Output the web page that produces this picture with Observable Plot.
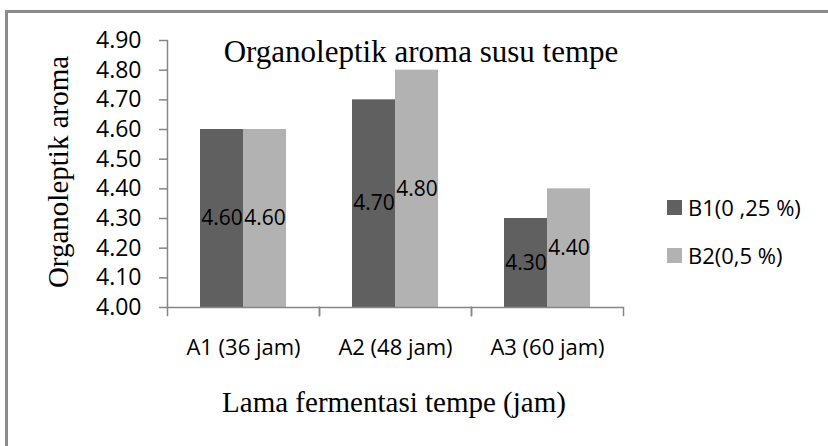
<!DOCTYPE html>
<html>
<head>
<meta charset="utf-8">
<script src="https://cdn.jsdelivr.net/npm/d3@7"></script>
<script src="https://cdn.jsdelivr.net/npm/@observablehq/plot@0.6"></script>
<style>
  html, body { margin: 0; padding: 0; background: #fff; }
  #wrap { position: relative; width: 828px; height: 446px; overflow: hidden; background: #fff; }
  #border { position: absolute; left: 5px; top: 10px; width: 1000px; height: 1000px;
            border-left: 3px solid #8c8c8c; border-top: 3px solid #8c8c8c; }
  #chart { position: absolute; left: 0; top: 0; }
  .serif { position: absolute; font-family: "Liberation Serif", "Times New Roman", serif; color: #000; white-space: nowrap; line-height: 1; }
  #title { left: 421px; top: 36px; font-size: 31px; transform: translateX(-50%); }
  #ylabel { left: 58px; top: 172px; font-size: 29px; transform: translate(-50%, -50%) rotate(-90deg); }
  #xlabel { left: 394px; top: 388px; font-size: 29px; transform: translateX(-50%); }
  #legend { position: absolute; left: 667px; top: 192px; font-family: "Open Sans", sans-serif; font-size: 22px; color: #000; }
  .item { display: flex; align-items: center; height: 30px; margin-bottom: 18px; white-space: nowrap; }
  .sw { width: 15px; height: 15px; margin-right: 6px; }
</style>
</head>
<body>
<div id="wrap">
  <div id="border"></div>
  <div id="chart"></div>
  <div id="title" class="serif"></div>
  <div id="ylabel" class="serif"></div>
  <div id="xlabel" class="serif"></div>
  <div id="legend"></div>
</div>
<script>
// ---- data ----
const categories = ["A1 (36 jam)", "A2 (48 jam)", "A3 (60 jam)"];
const series = ["B1(0 ,25 %)", "B2(0,5 %)"];
const valuesB1 = [4.60, 4.70, 4.30];
const valuesB2 = [4.60, 4.80, 4.40];
const yTicks = [4.00, 4.10, 4.20, 4.30, 4.40, 4.50, 4.60, 4.70, 4.80, 4.90];
const colors = ["#606060", "#b2b2b2"];
const titleText = "Organoleptik aroma susu tempe";
const yLabelText = "Organoleptik aroma";
const xLabelText = "Lama fermentasi tempe (jam)";

const yMin = yTicks[0], yMax = yTicks[yTicks.length - 1];
const data = [];
categories.forEach((c, i) => {
  data.push({cat: c, series: series[0], value: valuesB1[i]});
  data.push({cat: c, series: series[1], value: valuesB2[i]});
});

const W = 828, H = 446, mL = 166, mR = 205, mT = 40, mB = 139;
const innerH = H - mT - mB;
const axisColor = "#868686";

const chart = Plot.plot({
  width: W, height: H,
  marginLeft: mL, marginRight: mR, marginTop: mT, marginBottom: mB,
  style: {fontFamily: "'Open Sans', sans-serif", color: "#000", background: "transparent", overflow: "visible"},
  fx: {domain: categories, padding: 0, label: null},
  x: {domain: series, paddingInner: 0, paddingOuter: 0.75, axis: null},
  y: {domain: [yMin, yMax], axis: null},
  color: {domain: series, range: colors},
  marks: [
    Plot.barY(data, {fx: "cat", x: "series", y1: yMin, y2: "value", fill: "series"}),
    Plot.ruleY([yMin], {stroke: axisColor, strokeWidth: 1.5}),
    Plot.frame({anchor: "left", facetAnchor: "left", stroke: axisColor, strokeWidth: 1.5, strokeOpacity: 1}),
    Plot.frame({anchor: "left", insetTop: innerH, insetBottom: -8, stroke: axisColor, strokeWidth: 1.5, strokeOpacity: 1}),
    Plot.frame({anchor: "right", insetTop: innerH, insetBottom: -8, stroke: axisColor, strokeWidth: 1.5, strokeOpacity: 1}),
    Plot.axisY({ticks: yTicks, tickFormat: d => d.toFixed(2), tickSize: 8, tickPadding: 18,
                stroke: axisColor, strokeWidth: 1.5, strokeOpacity: 1, fill: "#000", fontSize: 23, label: null}),
    Plot.axisFx({anchor: "bottom", tickSize: 0, tickPadding: 32, fill: "#000", fontSize: 22, label: null}),
    Plot.text(data, {fx: "cat", x: "series", y: d => (yMin + d.value) / 2,
                     text: d => d.value.toFixed(2), fill: "#000", fontSize: 21})
  ]
});
document.getElementById("chart").appendChild(chart);

document.getElementById("title").textContent = titleText;
document.getElementById("ylabel").textContent = yLabelText;
document.getElementById("xlabel").textContent = xLabelText;

const legend = document.getElementById("legend");
series.forEach((s, i) => {
  const item = document.createElement("div");
  item.className = "item";
  const sw = document.createElement("div");
  sw.className = "sw";
  sw.style.background = colors[i];
  const lab = document.createElement("span");
  lab.textContent = s;
  item.appendChild(sw);
  item.appendChild(lab);
  legend.appendChild(item);
});
</script>
</body>
</html>
